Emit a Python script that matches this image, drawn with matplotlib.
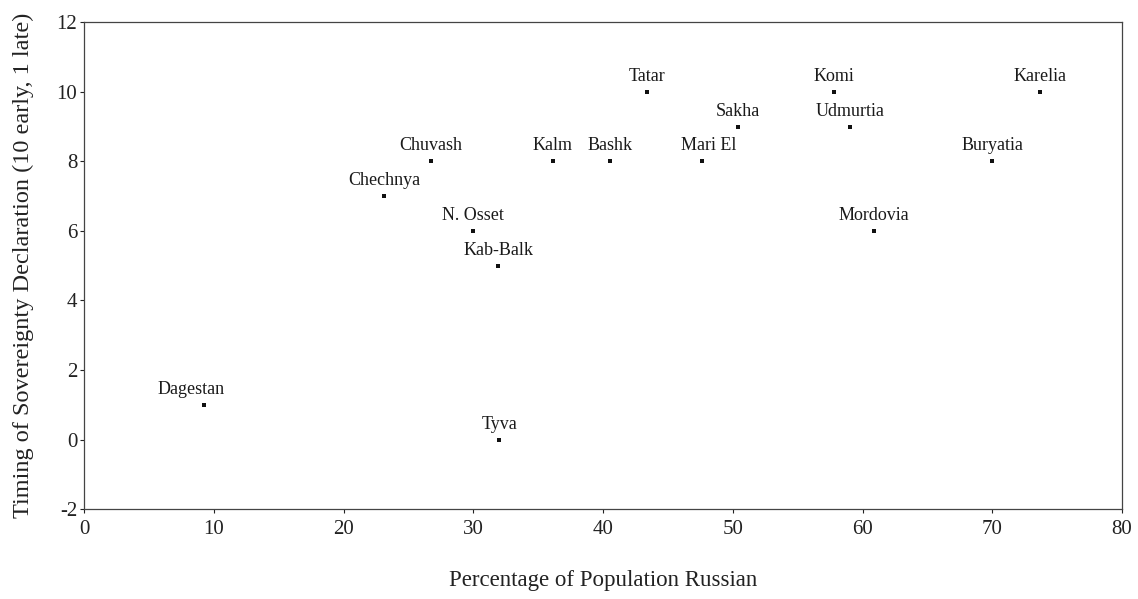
import matplotlib.pyplot as plt

plt.rcParams["font.family"] = ["Liberation Serif", "DejaVu Serif"]
plt.rcParams["axes.unicode_minus"] = False

REGIONS = [
    "Dagestan", "Tyva", "Kab-Balk", "N. Osset", "Chechnya", "Chuvash",
    "Kalm", "Bashk", "Mari El", "Tatar", "Sakha", "Komi", "Udmurtia",
    "Mordovia", "Buryatia", "Karelia",
]
PCT_RUSSIAN = [9.2, 32.0, 31.9, 30.0, 23.1, 26.7, 36.1, 40.5, 47.6,
               43.4, 50.4, 57.8, 59.0, 60.9, 70.0, 73.7]
TIMING = [1, 0, 5, 6, 7, 8, 8, 8, 8, 10, 9, 10, 9, 6, 8, 10]

# small horizontal nudges for a couple of labels (points)
LABEL_NUDGE = {"Dagestan": -9, "Mari El": 5}


def create_plot():
    fig = plt.figure(figsize=(11.38, 5.99), dpi=100)
    ax = fig.add_axes([0.074, 0.15, 0.912, 0.813])

    ax.scatter(PCT_RUSSIAN, TIMING, marker="s", s=7, color="#111111",
               linewidths=0, zorder=3)
    for name, x, y in zip(REGIONS, PCT_RUSSIAN, TIMING):
        ax.annotate(name, (x, y), xytext=(LABEL_NUDGE.get(name, 0), 5),
                    textcoords="offset points", ha="center", va="bottom",
                    fontsize=13, color="#1a1a1a")

    ax.set_xlim(0, 80)
    ax.set_ylim(-2, 12)
    ax.set_xticks(range(0, 81, 10))
    ax.set_yticks(range(-2, 13, 2))
    ax.tick_params(axis="both", direction="out", length=3, width=0.8,
                   labelsize=15, colors="#222222")
    ax.tick_params(axis="x", pad=5)
    ax.tick_params(axis="y", pad=2)
    for spine in ax.spines.values():
        spine.set_linewidth(0.9)
        spine.set_color("#444444")

    ax.set_xlabel("Percentage of Population Russian", fontsize=16.5,
                  color="#222222", labelpad=22)
    ax.set_ylabel("Timing of Sovereignty Declaration (10 early, 1 late)",
                  fontsize=17.5, color="#222222", labelpad=16)

    return fig


def main():
    fig = create_plot()
    fig.savefig("out.png", dpi=100)


if __name__ == "__main__":
    main()
